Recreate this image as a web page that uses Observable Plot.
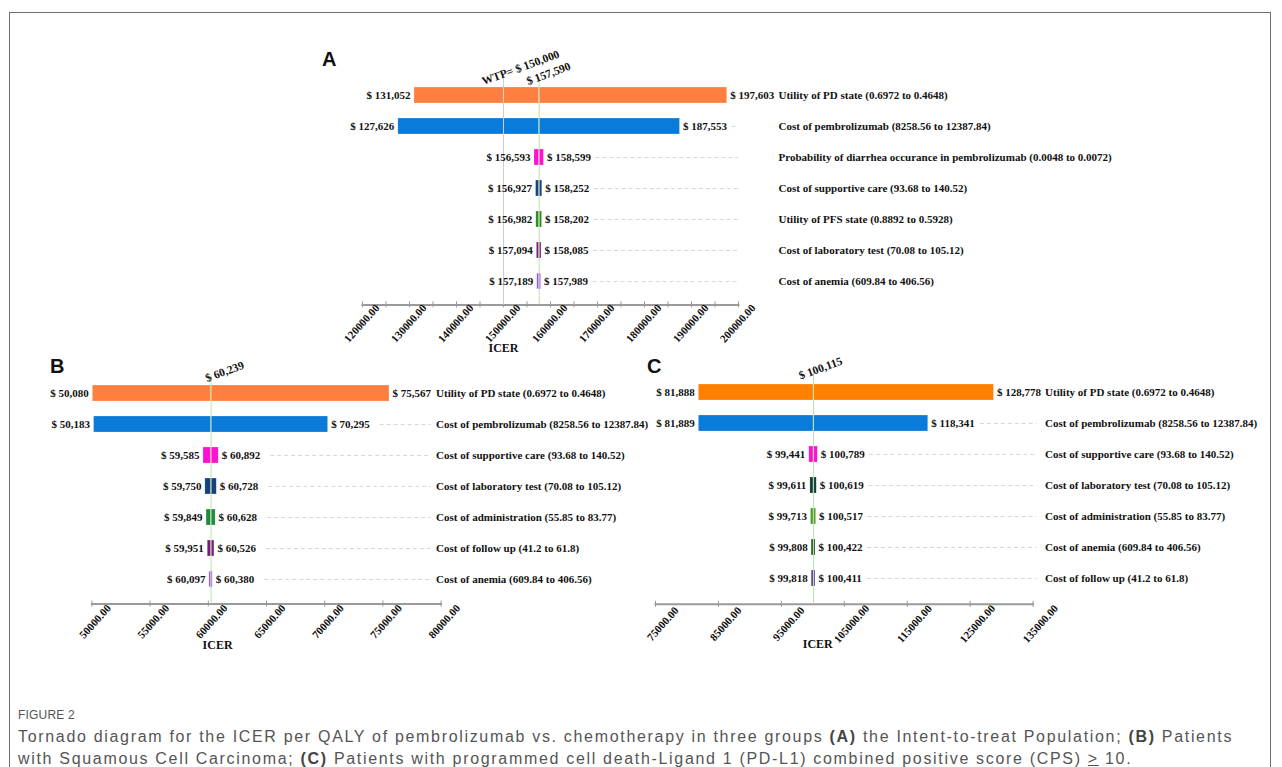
<!DOCTYPE html>
<html><head><meta charset="utf-8">
<script src="https://cdn.jsdelivr.net/npm/d3@7"></script>
<script src="https://cdn.jsdelivr.net/npm/@observablehq/plot@0.6"></script>
<style>
body{margin:0;background:#fff;}
#page{position:relative;width:1282px;height:767px;overflow:hidden;background:#fff;}
.frame{position:absolute;left:9px;top:12px;width:1262px;height:830px;border:1px solid #6f6f6f;box-sizing:border-box;}
.panel{position:absolute;}
.letter{position:absolute;font:bold 20px "Liberation Sans",Arial,sans-serif;line-height:20px;color:#111;}
.fig{position:absolute;left:18px;top:708px;font:12px "Liberation Sans",Arial,sans-serif;line-height:14px;color:#555;letter-spacing:0.2px;}
.cap{position:absolute;left:18px;top:726px;font:16px "Liberation Sans",Arial,sans-serif;line-height:21.5px;color:#555;white-space:nowrap;letter-spacing:1.68px;}
.cap b{color:#444;}
</style></head>
<body><div id="page">
<div class="frame"></div>
<div class="letter" style="left:322px;top:49px">A</div>
<div class="letter" style="left:50px;top:356px">B</div>
<div class="letter" style="left:647px;top:356px">C</div>
<div class="fig">FIGURE 2</div>
<div class="cap">Tornado diagram for the ICER per QALY of pembrolizumab vs. chemotherapy in three groups <b>(A)</b> the Intent-to-treat Population; <b>(B)</b> Patients<br>with Squamous Cell Carcinoma; <b>(C)</b> Patients with programmed cell death-Ligand 1 (PD-L1) combined positive score (CPS) <u>&gt;</u> 10.</div>
</div>
<script>
// ---------- Panel A: Intent-to-treat population ----------
const factorsA = [
  "Utility of PD state (0.6972 to 0.4648)",
  "Cost of pembrolizumab (8258.56 to 12387.84)",
  "Probability of diarrhea occurance in pembrolizumab (0.0048 to 0.0072)",
  "Cost of supportive care (93.68 to 140.52)",
  "Utility of PFS state (0.8892 to 0.5928)",
  "Cost of laboratory test (70.08 to 105.12)",
  "Cost of anemia (609.84 to 406.56)"
];
const lowA  = [131052, 127626, 156593, 156927, 156982, 157094, 157189];
const highA = [197603, 187553, 158599, 158252, 158202, 158085, 157989];
const colorsA = ["#fe7f40", "#0a7bd9", "#ff10d2", "#16437e", "#2e8a22", "#7d1f7d", "#9b47ff"];
const baseA = 157590;
const wtpA = 150000;
const ticksA = d3.range(120000, 200001, 5000);
const tickLabelsA = d3.range(120000, 200001, 10000);

// ---------- Panel B: Squamous cell carcinoma ----------
const factorsB = [
  "Utility of PD state (0.6972 to 0.4648)",
  "Cost of pembrolizumab (8258.56 to 12387.84)",
  "Cost of supportive care (93.68 to 140.52)",
  "Cost of laboratory test (70.08 to 105.12)",
  "Cost of administration (55.85 to 83.77)",
  "Cost of follow up (41.2 to 61.8)",
  "Cost of anemia (609.84 to 406.56)"
];
const lowB  = [50080, 50183, 59585, 59750, 59849, 59951, 60097];
const highB = [75567, 70295, 60892, 60728, 60628, 60526, 60380];
const colorsB = ["#fe7f40", "#0a7bd9", "#ff10d2", "#17407e", "#1f8a3d", "#7a1a7a", "#9b47ff"];
const baseB = 60239;
const ticksB = d3.range(50000, 80001, 5000);
const tickLabelsB = d3.range(50000, 80001, 5000);

// ---------- Panel C: PD-L1 CPS >= 10 ----------
const factorsC = [
  "Utility of PD state (0.6972 to 0.4648)",
  "Cost of pembrolizumab (8258.56 to 12387.84)",
  "Cost of supportive care (93.68 to 140.52)",
  "Cost of laboratory test (70.08 to 105.12)",
  "Cost of administration (55.85 to 83.77)",
  "Cost of anemia (609.84 to 406.56)",
  "Cost of follow up (41.2 to 61.8)"
];
const lowC  = [81888, 81889, 99441, 99611, 99713, 99808, 99818];
const highC = [128778, 118341, 100789, 100619, 100517, 100422, 100411];
const colorsC = ["#ff8000", "#0a7bd9", "#ff10d2", "#0f3f3a", "#4a9a24", "#184a18", "#4b2a8a"];
const baseC = 100115;
const ticksC = d3.range(75000, 135001, 10000);
const tickLabelsC = d3.range(75000, 135001, 10000);

const serif = '"Liberation Serif","Times New Roman",serif';
const money = v => "$ " + d3.format(",")(v);

function tornado(o) {
  const rows = o.factors.map((f, i) => ({f, low: o.low[i], high: o.high[i], color: o.colors[i], base: o.base}));
  const frameH = o.height - o.marginTop - o.marginBottom;
  const txt = {fontFamily: serif, fontWeight: "bold", fontSize: 11, fill: "#111"};
  const refTexts = o.refLines.map(r =>
    Plot.text([r], {x: "value", text: "label", frameAnchor: "top", textAnchor: "start", lineAnchor: "bottom",
      rotate: -20, dx: r.dx, dy: r.dy, ...txt, fontSize: 11.5}));
  return Plot.plot({
    width: o.width, height: o.height,
    marginLeft: o.marginLeft, marginRight: o.marginRight,
    marginTop: o.marginTop, marginBottom: o.marginBottom,
    style: {background: "transparent", overflow: "visible"},
    x: {domain: o.domain, axis: null},
    y: {domain: o.factors, padding: 0.5, axis: null},
    color: {type: "identity"},
    marks: [
      Plot.ruleY(rows.slice(1), {y: "f", x1: "high", x2: () => o.domain[1], stroke: "#d8d8d8", strokeDasharray: "4,3", insetLeft: 52, insetRight: o.dashInsetRight}),
      Plot.barX(rows, {y: "f", x1: "low", x2: "base", fill: "color", stroke: "#ffffff", strokeOpacity: 0.45, strokeWidth: 0.5}),
      Plot.barX(rows, {y: "f", x1: "base", x2: "high", fill: "color", stroke: "#ffffff", strokeOpacity: 0.45, strokeWidth: 0.5}),
      Plot.frame({anchor: "bottom", stroke: "#9a9a9a", strokeWidth: 2}),
      Plot.ruleX(o.ticks, {x: d => d, insetTop: frameH - 3, insetBottom: -3, stroke: "#9a9a9a", strokeWidth: 1}),
      Plot.ruleX(o.refLines, {x: "value", stroke: "stroke", strokeWidth: 1, insetTop: 7}),
      ...refTexts,
      Plot.text(rows, {y: "f", x: "low", text: d => money(d.low), textAnchor: "end", dx: -4, ...txt}),
      Plot.text(rows, {y: "f", x: "high", text: d => money(d.high), textAnchor: "start", dx: 3, ...txt}),
      Plot.text(rows, {y: "f", text: "f", frameAnchor: "right", textAnchor: "start", dx: o.catDx, ...txt}),
      Plot.text(o.tickLabels, {x: d => d, text: d => d.toFixed(2), frameAnchor: "bottom", rotate: -48, textAnchor: "middle", dx: o.tickDx, dy: o.tickDy, ...txt}),
      Plot.text(["ICER"], {x: () => o.icerAt, frameAnchor: "bottom", dy: o.icerDy, ...txt, fontSize: 12})
    ]
  });
}

function place(el, left, top) {
  const d = document.createElement("div");
  d.className = "panel";
  d.style.left = left + "px";
  d.style.top = top + "px";
  d.appendChild(el);
  document.getElementById("page").appendChild(d);
}

place(tornado({
  factors: factorsA, low: lowA, high: highA, colors: colorsA, base: baseA,
  domain: [120000, 200000], ticks: ticksA, tickLabels: tickLabelsA,
  width: 840, height: 330, marginLeft: 62, marginRight: 402, marginTop: 30.6, marginBottom: 65.6,
  refLines: [
    {value: wtpA, label: "WTP= " + money(wtpA), stroke: "#cdcdcd", dx: -20, dy: 14},
    {value: baseA, label: money(baseA), stroke: "#b9e2a6", dx: -11, dy: 14}
  ],
  dashInsetRight: 0, catDx: 40, tickDx: 2, tickDy: 21, icerAt: wtpA, icerDy: 47
}), 300, 40);

place(tornado({
  factors: factorsB, low: lowB, high: highB, colors: colorsB, base: baseB,
  domain: [50000, 80000], ticks: ticksB, tickLabels: tickLabelsB,
  width: 660, height: 330, marginLeft: 91.4, marginRight: 219.4, marginTop: 28.5, marginBottom: 66.5,
  refLines: [{value: baseB, label: money(baseB), stroke: "#b9e2a6", dx: -4, dy: 13}],
  dashInsetRight: 10, catDx: -5, tickDx: 6, tickDy: 20, icerAt: 60800, icerDy: 45
}), 0, 340);

place(tornado({
  factors: factorsC, low: lowC, high: highC, colors: colorsC, base: baseC,
  domain: [75000, 135000], ticks: ticksC, tickLabels: tickLabelsC,
  width: 642, height: 330, marginLeft: 15, marginRight: 249.4, marginTop: 25.1, marginBottom: 66.2,
  refLines: [{value: baseC, label: money(baseC), stroke: "#b9e2a6", dx: -13, dy: 14}],
  dashInsetRight: -4, catDx: 12, tickDx: 10, tickDy: 22, icerAt: 100776, icerDy: 44
}), 640, 340);
</script>
</body></html>
